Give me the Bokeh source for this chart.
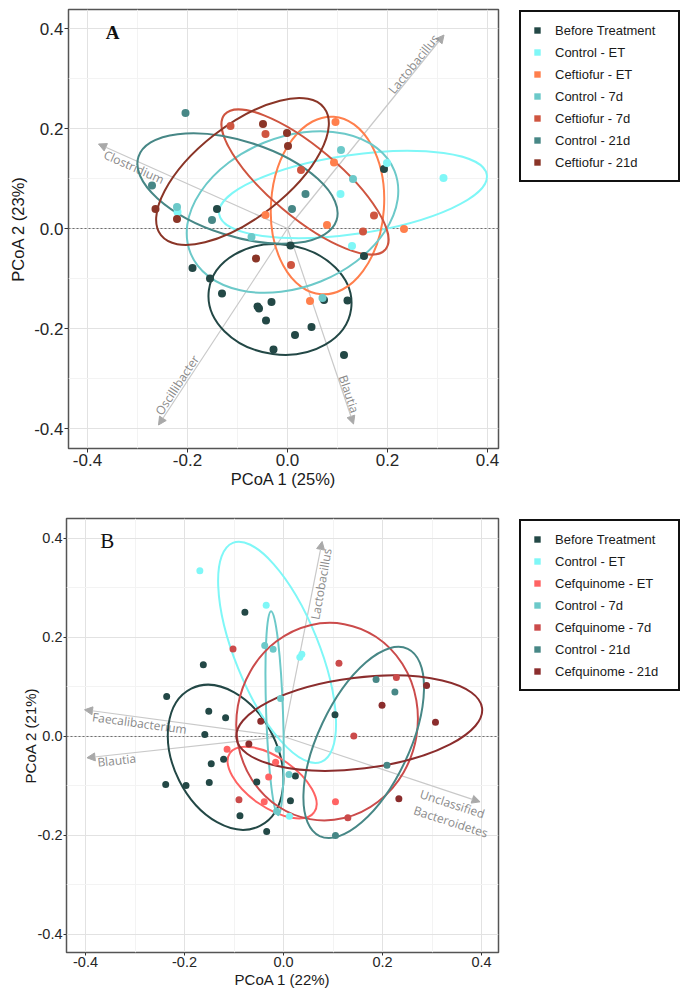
import numpy as np
from bokeh.plotting import figure
from bokeh.models import (ColumnDataSource, Range1d, FixedTicker, PrintfTickFormatter,
                          Span, Arrow, NormalHead, Legend, LegendItem, Label)
from bokeh.layouts import column, row
from bokeh.core.properties import value
from bokeh.embed import file_html
from bokeh.resources import INLINE

# ---------------- shared ticks ----------------
tick_vals = [-0.4, -0.2, 0.0, 0.2, 0.4]
minor_vals = [-0.5, -0.3, -0.1, 0.1, 0.3, 0.5]

# ---------------- Panel A data ----------------
groups_a = ["Before Treatment", "Control - ET", "Ceftiofur - ET", "Control - 7d",
            "Ceftiofur - 7d", "Control - 21d", "Ceftiofur - 21d"]
colors_a = ["#234846", "#7ff7f7", "#ff7f4c", "#6cc9c9", "#cf5540", "#478786", "#8a3527"]

a_before_x = [-0.141, 0.193, 0.006, 0.153, -0.190, -0.155, -0.131, -0.060, -0.057,
              -0.032, -0.043, 0.015, 0.048, -0.028, 0.073, 0.120, 0.113]
a_before_y = [0.039, 0.119, -0.034, -0.055, -0.079, -0.100, -0.130, -0.156, -0.160,
              -0.147, -0.184, -0.213, -0.197, -0.242, -0.143, -0.144, -0.253]
a_ctrl_et_x = [-0.220, 0.106, 0.199, 0.312, 0.129]
a_ctrl_et_y = [0.033, 0.069, 0.131, 0.101, -0.035]
a_ceft_et_x = [0.096, 0.093, -0.044, 0.079, 0.233, 0.045]
a_ceft_et_y = [0.213, 0.132, 0.027, 0.007, -0.001, -0.145]
a_ctrl_7d_x = [-0.221, -0.072, 0.107, 0.131, 0.070]
a_ctrl_7d_y = [0.043, -0.017, 0.157, 0.099, -0.139]
a_ceft_7d_x = [-0.114, -0.044, 0.027, 0.173, 0.151, 0.007]
a_ceft_7d_y = [0.205, 0.189, 0.117, 0.026, -0.006, -0.073]
a_ctrl_21d_x = [-0.204, -0.271, -0.151, 0.036, 0.009]
a_ctrl_21d_y = [0.231, 0.086, 0.017, 0.069, 0.039]
a_ceft_21d_x = [-0.049, -0.001, 0.001, -0.264, -0.221, -0.063]
a_ceft_21d_y = [0.209, 0.191, 0.165, 0.039, 0.019, -0.060]

# 95% ellipses (centre, full axes, rotation in degrees), same order as groups_a
a_ell_cx = [-0.015, 0.131, 0.080, 0.010, 0.035, -0.100, -0.090]
a_ell_cy = [-0.142, 0.068, 0.046, 0.033, 0.093, 0.080, 0.114]
a_ell_w = [0.287, 0.541, 0.226, 0.440, 0.420, 0.416, 0.414]
a_ell_h = [0.220, 0.158, 0.356, 0.300, 0.140, 0.190, 0.185]
a_ell_angle = [-7.5, 8.3, -4.0, 22.0, -40.0, -17.7, 38.0]

# biplot taxa vectors
a_taxa_x = [0.313, -0.378, -0.258, 0.132]
a_taxa_y = [0.387, 0.169, -0.393, -0.391]
a_taxa_label = ["Lactobacillus", "Clostridium", "Oscillibacter", "Blautia"]
a_taxa_lx = [0.252, -0.307, -0.221, 0.123]
a_taxa_ly = [0.329, 0.123, -0.313, -0.331]
a_taxa_angle = [51.0, -24.0, 56.7, -71.3]

# ---------------- Panel B data ----------------
groups_b = ["Before Treatment", "Control - ET", "Cefquinome - ET", "Control - 7d",
            "Cefquinome - 7d", "Control - 21d", "Cefquinome - 21d"]
colors_b = ["#234846", "#7ff7f7", "#ff6363", "#6cc9c9", "#cb4b4b", "#478786", "#8b2d2d"]

b_before_x = [-0.078, -0.162, -0.236, -0.151, -0.117, -0.159, 0.104, -0.146, -0.121,
              0.024, -0.238, -0.197, -0.150, -0.054, 0.014, -0.088, -0.034]
b_before_y = [0.251, 0.145, 0.081, 0.051, 0.038, 0.004, 0.044, -0.055, -0.046,
              -0.080, -0.097, -0.099, -0.093, -0.092, -0.130, -0.160, -0.192]
b_ctrl_et_x = [-0.169, -0.035, 0.033, 0.037, 0.012]
b_ctrl_et_y = [0.335, 0.265, 0.160, 0.166, -0.161]
b_cefq_et_x = [-0.114, -0.016, -0.030, -0.039, 0.105]
b_cefq_et_y = [-0.026, -0.052, -0.082, -0.132, -0.132]
b_ctrl_7d_x = [-0.038, -0.021, -0.006, -0.011, 0.011, -0.014]
b_ctrl_7d_y = [0.184, 0.176, 0.077, -0.026, -0.077, -0.151]
b_cefq_7d_x = [-0.102, 0.112, 0.228, 0.142, -0.090, 0.130]
b_cefq_7d_y = [0.177, 0.148, 0.119, 0.001, -0.128, -0.164]
b_ctrl_21d_x = [0.187, 0.225, 0.209, 0.105]
b_ctrl_21d_y = [0.115, 0.090, -0.058, -0.200]
b_cefq_21d_x = [0.199, 0.289, 0.307, -0.046, -0.070, 0.233]
b_cefq_21d_y = [0.063, 0.103, 0.029, 0.031, -0.015, -0.126]

b_ell_cx = [-0.117, -0.013, -0.023, -0.018, 0.088, 0.162, 0.153]
b_ell_cy = [-0.042, 0.170, -0.093, 0.047, 0.030, -0.012, 0.027]
b_ell_w = [0.310, 0.477, 0.208, 0.412, 0.400, 0.418, 0.500]
b_ell_h = [0.210, 0.170, 0.100, 0.034, 0.366, 0.184, 0.184]
b_ell_angle = [116.6, 112.0, -35.0, 92.0, 80.0, 64.8, 7.0]

b_taxa_x = [0.078, -0.402, -0.397, 0.397]
b_taxa_y = [0.394, 0.054, -0.043, -0.132]
b_taxa_label = ["Lactobacillus", "Faecalibacterium", "Blautia", "Unclassified", "Bacteroidetes"]
b_taxa_lx = [0.076, -0.291, -0.337, 0.341, 0.338]
b_taxa_ly = [0.308, 0.027, -0.048, -0.136, -0.172]
b_taxa_angle = [80.0, -7.7, 6.2, -18.0, -18.0]

points_a = [(a_before_x, a_before_y), (a_ctrl_et_x, a_ctrl_et_y), (a_ceft_et_x, a_ceft_et_y),
            (a_ctrl_7d_x, a_ctrl_7d_y), (a_ceft_7d_x, a_ceft_7d_y),
            (a_ctrl_21d_x, a_ctrl_21d_y), (a_ceft_21d_x, a_ceft_21d_y)]
points_b = [(b_before_x, b_before_y), (b_ctrl_et_x, b_ctrl_et_y), (b_cefq_et_x, b_cefq_et_y),
            (b_ctrl_7d_x, b_ctrl_7d_y), (b_cefq_7d_x, b_cefq_7d_y),
            (b_ctrl_21d_x, b_ctrl_21d_y), (b_cefq_21d_x, b_cefq_21d_y)]

SANS = "Liberation Sans"


def make_panel(cfg):
    p = figure(width=cfg["width"], height=cfg["height"],
               x_range=Range1d(*cfg["xr"]), y_range=Range1d(*cfg["yr"]),
               output_backend="svg", toolbar_location=None,
               min_border_left=cfg["mbl"], min_border_right=cfg["mbr"],
               min_border_top=cfg["mbt"], min_border_bottom=cfg["mbb"],
               x_axis_label=cfg["xlabel"], y_axis_label=cfg["ylabel"])
    p.background_fill_color = "white"
    p.border_fill_color = "white"
    p.outline_line_color = "#555555"
    p.outline_line_width = 1.5

    for ax in (p.xaxis[0], p.yaxis[0]):
        ax.ticker = FixedTicker(ticks=tick_vals, minor_ticks=minor_vals)
        ax.formatter = PrintfTickFormatter(format="%.1f")
        ax.axis_line_color = None
        ax.major_tick_line_color = "#333333"
        ax.major_tick_out = cfg["tick"]
        ax.major_tick_in = 0
        ax.minor_tick_out = 0
        ax.minor_tick_in = 0
        ax.major_label_text_font = SANS
        ax.major_label_text_font_size = cfg["tick_fs"]
        ax.major_label_text_color = "#262626"
        ax.major_label_standoff = 1
        ax.axis_label_text_font = SANS
        ax.axis_label_text_font_style = "normal"
        ax.axis_label_text_font_size = cfg["title_fs"]
        ax.axis_label_text_color = "#1a1a1a"
    p.xaxis.axis_label_standoff = 1
    p.yaxis.axis_label_standoff = cfg["ylab_standoff"]

    for g in (p.xgrid[0], p.ygrid[0]):
        g.grid_line_color = "#e2e2e2"
        g.grid_line_width = 1
        g.minor_grid_line_color = "#f3f3f3"
        g.minor_grid_line_width = 1

    p.add_layout(Span(location=0, dimension="width", line_color="#6e6e6e",
                      line_dash="2 2", line_width=1, level="underlay"))

    # biplot arrows
    n = len(cfg["taxa_x"])
    arr_src = ColumnDataSource(dict(x0=[0.0] * n, y0=[0.0] * n,
                                    x1=cfg["taxa_x"], y1=cfg["taxa_y"]))
    p.add_layout(Arrow(end=NormalHead(size=8, fill_color="#a9a9a9", line_color="#a9a9a9",
                                      line_width=1),
                       x_start="x0", y_start="y0", x_end="x1", y_end="y1", source=arr_src,
                       line_color="#c9c9c9", line_width=1.2, level="underlay"))
    lab_src = ColumnDataSource(dict(x=cfg["lx"], y=cfg["ly"], text=cfg["ltext"],
                                    angle=cfg["langle"]))
    p.text(x="x", y="y", text="text", angle="angle", angle_units="deg", source=lab_src,
           text_font=value("Open Sans"), text_font_size="12px", text_color="#8a8a8a",
           text_align="center", text_baseline="middle")

    # ellipses
    ell_src = ColumnDataSource(dict(x=cfg["ecx"], y=cfg["ecy"], w=cfg["ew"], h=cfg["eh"],
                                    a=cfg["eang"], color=cfg["colors"]))
    p.ellipse(x="x", y="y", width="w", height="h", angle="a", angle_units="deg",
              source=ell_src, fill_color=None, line_color="color",
              line_width=cfg["ell_lw"])

    # points
    for (xs, ys), col in zip(cfg["points"], cfg["colors"]):
        p.scatter(x=xs, y=ys, size=cfg["pt"], fill_color=col, line_color=None)

    p.add_layout(Label(x=cfg["tag_x"], y=cfg["tag_y"], text=cfg["tag"],
                       text_font="Liberation Serif", text_font_style=cfg["tag_style"],
                       text_font_size=cfg["tag_fs"], text_align="center",
                       text_baseline="middle", text_color="#111111"))

    # legend lives in its own blank figure to the right
    lf = figure(width=cfg["leg_w"], height=cfg["height"], x_range=Range1d(0, 1),
                y_range=Range1d(0, 1), output_backend="svg", toolbar_location=None,
                x_axis_type=None, y_axis_type=None,
                min_border_left=cfg["leg_left"], min_border_top=cfg["leg_top"],
                min_border_right=0, min_border_bottom=0)
    lf.outline_line_color = None
    lf.xgrid.visible = False
    lf.ygrid.visible = False
    lf.background_fill_color = "white"
    lf.border_fill_color = "white"
    items = []
    for col, name in zip(cfg["colors"], cfg["groups"]):
        proxy = lf.scatter(x=[np.nan], y=[np.nan], marker="square", size=6,
                           fill_color=col, line_color=None)
        items.append(LegendItem(label=name, renderers=[proxy]))
    legend = Legend(items=items, location="top_left", margin=1, padding=8,
                    spacing=2, glyph_width=16, glyph_height=16, label_height=20,
                    label_width=115, label_standoff=10,
                    label_text_font=SANS, label_text_font_size="13px",
                    label_text_color="#1a1a1a",
                    border_line_color="#111111", border_line_width=2,
                    border_line_alpha=1.0,
                    background_fill_color="white", background_fill_alpha=1.0)
    lf.add_layout(legend)
    return row(p, lf, spacing=0)


cfg_a = dict(width=500, height=492, xr=(-0.438, 0.422), yr=(-0.44, 0.438),
             mbl=68, mbr=2, mbt=9, mbb=44,
             xlabel="PCoA 1 (25%)", ylabel="PCoA 2 (23%)",
             tick=4, tick_fs="17px", title_fs="16.5px", ylab_standoff=4,
             taxa_x=a_taxa_x, taxa_y=a_taxa_y, lx=a_taxa_lx, ly=a_taxa_ly,
             ltext=a_taxa_label, langle=a_taxa_angle,
             ecx=a_ell_cx, ecy=a_ell_cy, ew=a_ell_w, eh=a_ell_h, eang=a_ell_angle,
             colors=colors_a, groups=groups_a, points=points_a, pt=8, ell_lw=2,
             tag="A", tag_x=-0.35, tag_y=0.392, tag_style="bold", tag_fs="19px",
             leg_w=183, leg_left=18, leg_top=7)

cfg_b = dict(width=500, height=503, xr=(-0.4384, 0.4343), yr=(-0.4364, 0.4404),
             mbl=66, mbr=2, mbt=26, mbb=43,
             xlabel="PCoA 1 (22%)", ylabel="PCoA 2 (21%)",
             tick=3, tick_fs="14.5px", title_fs="15px", ylab_standoff=-4,
             taxa_x=b_taxa_x, taxa_y=b_taxa_y, lx=b_taxa_lx, ly=b_taxa_ly,
             ltext=b_taxa_label, langle=b_taxa_angle,
             ecx=b_ell_cx, ecy=b_ell_cy, ew=b_ell_w, eh=b_ell_h, eang=b_ell_angle,
             colors=colors_b, groups=groups_b, points=points_b, pt=7, ell_lw=2,
             tag="B", tag_x=-0.356, tag_y=0.394, tag_style="normal", tag_fs="21px",
             leg_w=183, leg_left=18, leg_top=24)

pa = make_panel(cfg_a)
pb = make_panel(cfg_b)
layout = column(pa, pb, spacing=0)

open("out.html", "w").write(file_html(layout, INLINE))
